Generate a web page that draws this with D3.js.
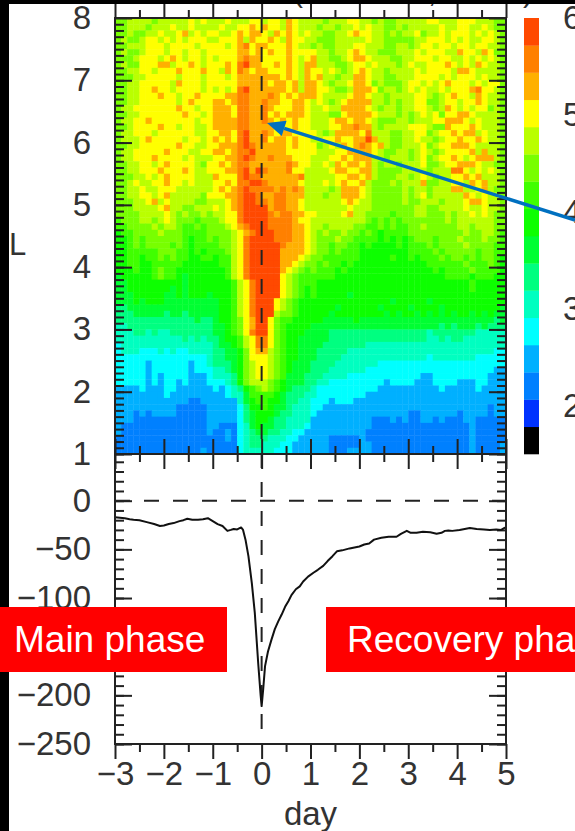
<!DOCTYPE html>
<html><head><meta charset="utf-8">
<script src="https://cdnjs.cloudflare.com/ajax/libs/d3/7.8.5/d3.min.js"></script>
<style>html,body{margin:0;padding:0;background:#fff;overflow:hidden}svg{display:block}</style>
</head><body><div id="c"></div>
<script>
const levelColors=["#000000","#0030ff","#0080ff","#00b0ff","#00ffff","#00ffc0","#00ff80","#00ff30","#10ff00","#40ff00","#78ff00","#baff00","#ffff00","#ffb000","#ff8000","#ff4800"];
// Level (hex digit) per cell, top row L 7.9-8.0; each group = one day, -3 to 5
const gridRows=[
"aabbbbab bbbbcbcb bbcbbbcc bccbdcbb bbabbbcc bbabaabb bbbccbbb cccbbbaa",
"aabbbabb bcbbcbbb bcbbccdc dccbdcbb babbabbc bcbbaaba bbbbbcbb ccbbcbaa",
"aabaabbc bbcdbcbc cbbcdcdd cbdcdcbc bbaabbcd ccbbabab bcabbcbc ccbcbcba",
"abaabccb cbcbcccb bcccdbdc cdcbdccb baaabbbb bcbbaaaa abbcccbc bcbbccba",
"aabbbccc bccccbcc ccbcdecd dcccdcbb abaabbbc cbbbaabb abccbccb ccbccbba",
"abaabccc bccbccbc ccccddcd cdccdccc cbbabbcd cbbaaabb bcbcccbb dccbdcaa",
"aaabcccb cdcbccbc bcccdedd ccccdcbc dbbaabcd dcbbbaab bcccbccb bcbcbcba",
"abaacccd dbccdcbc ccdcefdd ccdcdcbd dbbbaabc cbcbbbab cbbcccdc bcbdcbba",
"aabbccbc ccdcccdc cbdcedcd dcccdcbd ccbcbabc dcbbabbb bcbccccb ddcbbbba",
"aaabbccc ccbcccbc ccbcdddd dddcdcbd cdbbabbd dcbbaabb bccccbcb cccbcbba",
"aabbcccc cbdcccbc ccccdddd dcddcdbd dcbabbcd dcabaaab ccbcbcdc ccbcbcca",
"aabbccdc cbccccbc bcbcefdd ddddcdbd dccbaabd ddcabbab cbcbbcbc ccdeccba",
"aabbcccd ccbccdcc ccddeedd dedcdcdd dcbbbbcd dcbbabbb bccbabcd ccbdcbba",
"aabbcccc ccbcdccc ddcdeedd eddccddc bcbabcdd ddbbabab bccaabcc bccdcbba",
"abbccccc ccdccbcc dddceedd edcccddc bbcbbddd dcbabbab bccbabdc bcbccaba",
"aabbcccc cccdccbc dddceedd ecdcdddc bbbaacdd ddcbbbab abcbcacc ddcbbbba",
"abbccdcc cccccbcc ddddeedd edcdcdcc bbbcddcd dcbaaabb abbbccdd dcbcbbba",
"aabccccd ccbccbbc ddddeedd ddcccdcc bbbccdde ddbabbbb cccbaadc ccdcbbba",
"abbcccbc cccccbbc cddcefdd edcddccc cbabdddd cebbbaab bccabccd cddbcbba",
"abbbcdcc cccbccbc dcdcefdd ecddcdcc bbccdccd dfdbbaab bcbbabcc dccdcbba",
"aabbcccc ccdccbbc cdddefed ddddcdcc cabcbdcd edcdbaab bbcabccd ddcbbbba",
"abbccccc dcccbbcc ddcdeefd ddddcccc cbbbccdd ddcbaabb abcbabcc ccdbdbba",
"abbcccdc cccbcbbb ccddefed dedddccc bbbccdcd ddbbabbb abcabccd cbcdddba",
"aabbccbc dccccbac cdcdeedd ddddedcc bbcbdcdd cdbabbab bbcaabcc dddcbbaa",
"aabbcccd cccdcbbc ccddefdf edddeccb bbbcddcc ddbaaaab bbbabbbe ecbcbcba",
"aaabbcbc dccccbbb dcccefee ddddddeb bbbbccdd cdbaaabb abcbabbc cdcdbbba",
"aabcbbcc dccbcbbb ccdceeff edddddcb bbcbcdcc dbaaabab bbdaabbc cbdcdbba",
"aabbcbbc ccbbbbbb cdcdefee eedededb bbbabddd cbaaaaab abbabbbd dbbcdbaa",
"aabbccbc dbbbbbac ccddeffe ddeedddb bbabbddd cbaaaaab abcabbbb bdcbcbba",
"aaabbcdb cbbbbaab bbcdeffe edeeddcb bbbbbcdc bbaaaaab aabbbabb bcddcbba",
"aaabbbbc dbbaabbb cbcdefff fdeeddcb bbbbbbcb bbaaaaaa abbaabbb bcbbcbba",
"aaaabbbb cbabaaba bbccefff fedeeddc cbbbbcdb baaaa9aa abbaaaba bbcbcbaa",
"9aaabbab cbaaa9aa abccefff feeeedcc bbbbbbbb ba9a9a9a aaaaaaba bbbbbbaa",
"99aaaaba bba99a9a aabcdeff feeeeddc bbabbbba a99a9a99 aabaaaaa bbabbbaa",
"899aaaab aaa9999a aaabcdef ffeeeddc babaabaa 9a989999 aaaaaaaa abaabba9",
"889a9aaa aaa9899a 9aabceff ffeeeddc baaabaa9 99989898 9aaa9aaa baaabaa9",
"889a9aaa a9a98999 9aabceff fffedddc baa9aa99 89888898 999a9aaa abaaaa99",
"8899999a aa998989 99abceff fffddddc baa9a999 88888888 9999a9aa aaa9aa99",
"8899899a 9a998899 899bceff fffdddcb aa999999 88888988 98999a9a a9a9aa98",
"88998899 99988888 899bceff fffddcba a9a99898 88888888 88899999 9a999a98",
"8889889a 99888888 889bceff fffdcba9 a9998988 88888888 88889899 99a99998",
"7888889a 99878888 889bceff fffcba99 99998888 88888888 88888899 99899988",
"77888888 88878888 8889bcef fffcba99 98888888 88888888 88888888 88988888",
"77888888 87878888 8889bcef fffcba98 98888888 88888888 88888888 88988888",
"77788888 77878887 8889bcef fffcba98 98888878 88888888 88888888 88888888",
"77787888 77777777 7889bcef ffcba988 88888888 88888788 88878888 88888888",
"66777777 77777777 7889bcef ffcba988 88887888 88878888 78888788 88888887",
"66677777 67767777 7889bcef ffbaa988 88878888 88887878 87878787 88787877",
"66666666 66666766 7889acdf fca99888 88777778 77777777 77777777 77777767",
"55666666 66666666 7789acdf fca98888 77777777 77777777 77777676 77767666",
"55566565 56666666 7789acef fca98887 77766666 66666666 66656666 66655555",
"55555555 55565656 67889bce eca98877 77766666 66666666 66655656 65555555",
"45555555 55555555 67789bce eca98877 77666666 65555555 55555555 55555555",
"45554445 45445555 66778acd dba98877 76666655 55555555 55555555 55555544",
"44444444 44444445 66778acc cba98877 76666555 55555555 55545555 55544444",
"44444344 44443445 66678abc cba98777 66665555 55544444 44444444 44444444",
"44444344 44443444 55678abc cba98777 66655555 54444444 44444444 44444433",
"44444343 44443334 55568abc cba97776 66555544 44444444 44334444 44444333",
"44444343 44343334 44568abb ba987776 65544444 44443444 43334444 33344333",
"33334333 44333333 4345689a ba987666 54444444 44433333 33333433 33343333",
"33333333 43333333 33455799 99876665 54444444 43333333 33333333 33333333",
"33333333 33332233 33335789 98876655 44434443 33333333 33333333 33333333",
"33333333 33222223 33334688 98776555 44333333 33333333 33333333 33333233",
"33323233 33222223 33334678 88766555 43333333 33333333 22333333 23333233",
"33322222 22222223 33334678 87665555 33333333 33222323 22332322 23322222",
"32222222 22222223 32224578 77665554 33333333 33222222 22222222 22322222",
"32222222 22222223 22324567 76655443 33333333 32222222 22222222 22322222",
"22222222 22222222 22324566 65554433 33322222 32222222 22222222 22322222",
"22222222 22222222 22224566 55544333 33322222 33222222 22222222 22322223",
"22222222 22222232 22224555 55444333 33322233 33222222 22222222 22322223"
];
const dstDays=[-3,-2.9,-2.8,-2.7,-2.62,-2.5,-2.35,-2.2,-2.08,-2,-1.9,-1.8,-1.68,-1.6,-1.52,-1.42,-1.3,-1.2,-1.1,-1,-.9,-.8,-.7,-.63,-.57,-.5,-.42,-.38,-.33,-.27,-.2,-.14,-.07,-.02,0,.03,.07,.13,.2,.27,.34,.41,.48,.55,.61,.7,.78,.85,.95,1.06,1.15,1.26,1.35,1.45,1.54,1.65,1.8,2,2.1,2.2,2.3,2.45,2.6,2.76,2.85,2.97,3.05,3.17,3.3,3.45,3.58,3.68,3.75,3.82,3.9,4.05,4.26,4.4,4.55,4.67,4.8,4.9,4.97,5];
const dstVals=[-17,-17.5,-18,-19,-19.5,-20,-22,-24,-26,-25.5,-24,-23,-21,-20,-18.5,-19.5,-19.5,-19,-18,-21,-24,-26,-31,-30,-29,-29.5,-27.5,-30,-40,-57,-85,-115,-167,-200,-211,-195,-170,-155,-143,-132,-124,-117,-109,-103,-97,-91,-88,-83,-78,-74,-71,-67,-62,-57,-52,-51,-49,-47,-45,-44,-40,-38,-37,-37,-34,-31,-33,-33,-32,-32.5,-34,-33,-31,-30.5,-31,-30,-28,-29,-29.5,-30,-29.5,-30,-28,-27];
const xTickLabels=[-3,-2,-1,0,1,2,3,4,5];
const lTickLabels=[1,2,3,4,5,6,7,8];
const dstTickLabels=[0,-50,-100,-200,-250];
const barTickLabels=[2,3,4,5,6];
const phases=["Main phase","Recovery phase"];

const W=575,H=831;
const INK="#222";
const FONT="'Liberation Sans',Arial,sans-serif";
const svg=d3.select("#c").append("svg").attr("width",W).attr("height",H);
svg.append("rect").attr("width",W).attr("height",H).attr("fill","#fff");

const x=d3.scaleLinear().domain([-3,5]).range([115,506]);
const yL=d3.scaleLinear().domain([1,8]).range([454,18]);
const yD=d3.scaleLinear().domain([-250,48]).range([744,454]);
const barL=d3.scaleLinear().domain([1.5,6]).range([454,18]);
const barBand=d3.scaleBand().domain(d3.range(16)).range([454,18]).paddingInner(0);

const soft=svg.append("defs").append("filter").attr("id","soft").attr("x","-2%").attr("y","-2%").attr("width","104%").attr("height","104%");
soft.append("feGaussianBlur").attr("stdDeviation",0.6);

// heat map
const cells=[];
gridRows.forEach((row,r)=>{
  row.replace(/ /g,"").split("").forEach((ch,c)=>{
    cells.push({day:-3+c/8,L:8-r/10,level:parseInt(ch,16)});
  });
});
const heat=svg.append("g").attr("filter","url(#soft)");
heat.selectAll("rect").data(cells).join("rect")
  .attr("x",d=>x(d.day)).attr("y",d=>yL(d.L))
  .attr("width",x(-3+1/8)-x(-3)+.4).attr("height",yL(7.9)-yL(8)+.4)
  .attr("fill",d=>levelColors[d.level]);

// colour bar
const bar=svg.append("g").attr("filter","url(#soft)");
bar.selectAll("rect").data(levelColors).join("rect")
  .attr("x",524).attr("width",15)
  .attr("y",(d,i)=>barBand(i)).attr("height",barBand.bandwidth()+.3)
  .attr("fill",d=>d);

function styleTicks(g,w){
  g.select(".domain").remove();
  g.selectAll("line").attr("stroke",INK).attr("stroke-width",w);
  g.selectAll("text").remove();
}
function ticks(axis,values,size,tx,ty,w){
  const g=svg.append("g").attr("transform",`translate(${tx},${ty})`)
    .call(axis.tickValues(values).tickSize(-size).tickFormat(""));
  styleTicks(g,w);
}
const minorL=d3.range(10,80).map(v=>v/10);
const days=d3.range(-3,5.01,1), halfDays=d3.range(-2.5,5,1);
const minorD=d3.range(-250,41,10);
const majorD=d3.range(-250,1,50);
ticks(d3.axisLeft(yL),minorL,9,115,0,2);
ticks(d3.axisRight(yL),minorL,9,506,0,2);
ticks(d3.axisLeft(yL),lTickLabels,17,115,0,2);
ticks(d3.axisRight(yL),lTickLabels,17,506,0,2);
ticks(d3.axisLeft(yD),minorD,9,115,0,2);
ticks(d3.axisRight(yD),minorD,9,506,0,2);
ticks(d3.axisLeft(yD),majorD,17,115,0,2);
ticks(d3.axisRight(yD),majorD,17,506,0,2);
function xt(values,size,p,top){
  ticks(top?d3.axisBottom(x):d3.axisTop(x),values,size,0,p,2);
}
xt(days,15,18,true); xt(halfDays,8,18,true);
xt(days,15,454,false); xt(halfDays,8,454,false);
xt(days,15,454,true); xt(halfDays,8,454,true);
xt(days,15,744,false); xt(halfDays,8,744,false);

// dashed reference lines
svg.append("line").attr("x1",x(0)).attr("x2",x(0)).attr("y1",yL(8)).attr("y2",yD(-250))
  .attr("stroke",INK).attr("stroke-width",2).attr("stroke-dasharray","15 14");
svg.append("line").attr("x1",x(-3)).attr("x2",x(5)).attr("y1",yD(0)).attr("y2",yD(0))
  .attr("stroke",INK).attr("stroke-width",2).attr("stroke-dasharray","15 14");

// Dst line
svg.append("path").datum(dstDays.map((d,i)=>[d,dstVals[i]]))
  .attr("d",d3.line().x(d=>x(d[0])).y(d=>yD(d[1])))
  .attr("fill","none").attr("stroke","#111").attr("stroke-width",2).attr("stroke-linejoin","round");

// frames
[[yL(8),454],[454,744]].forEach(([a,b])=>{
  svg.append("rect").attr("x",115).attr("y",a).attr("width",391).attr("height",b-a)
    .attr("fill","none").attr("stroke",INK).attr("stroke-width",2);
});

// tick labels
function labels(axis,values,tx,ty,pad,fmt){
  const g=svg.append("g").attr("transform",`translate(${tx},${ty})`)
    .call(axis.tickValues(values).tickSize(0).tickPadding(pad).tickFormat(fmt||(d=>d3.format("d")(d))));
  g.select(".domain").remove();
  g.selectAll("line").remove();
  g.selectAll("text").attr("font-family",FONT).attr("font-size",33).attr("fill","#333");
  return g;
}
labels(d3.axisLeft(yL),lTickLabels,115,0,24);
labels(d3.axisLeft(yD),dstTickLabels,115,0,24);
labels(d3.axisBottom(x),xTickLabels,0,744,18);
labels(d3.axisRight(barL),barTickLabels,563,0,0);

svg.append("text").text("L").attr("x",9).attr("y",255).attr("font-family",FONT).attr("font-size",31).attr("fill","#333");
svg.append("text").text("day").attr("x",x(1)).attr("y",825).attr("text-anchor","middle")
  .attr("font-family",FONT).attr("font-size",33).attr("fill","#333");

// remnants of the cropped title
[["(",293],[",",428],[")",523]].forEach(([t,px])=>{
  svg.append("text").text(t).attr("x",px).attr("y",2).attr("font-family",FONT).attr("font-size",30).attr("fill","#333");
});

// cropped black edges
svg.append("rect").attr("x",0).attr("y",0).attr("width",W).attr("height",4).attr("fill","#000");
svg.append("rect").attr("x",0).attr("y",0).attr("width",9).attr("height",H).attr("fill","#000");

// arrow
const tip=[267,123], tail=[575,220];
const ang=Math.atan2(tail[1]-tip[1],tail[0]-tip[0]);
const headLen=18, headW=8;
const base=[tip[0]+headLen*Math.cos(ang),tip[1]+headLen*Math.sin(ang)];
svg.append("line").attr("x1",base[0]).attr("y1",base[1]).attr("x2",tail[0]).attr("y2",tail[1])
  .attr("stroke","#0070c0").attr("stroke-width",3.5);
svg.append("polygon").attr("fill","#0070c0").attr("points",[
  tip,
  [base[0]-headW*Math.sin(ang),base[1]+headW*Math.cos(ang)],
  [base[0]+headW*Math.sin(ang),base[1]-headW*Math.cos(ang)]
].map(p=>p.join(",")).join(" "));

// phase labels
[[0,227,14],[326,249,347]].forEach(([bx,bw,tx],i)=>{
  svg.append("rect").attr("x",bx).attr("y",607).attr("width",bw).attr("height",65).attr("fill","#ff0000");
  svg.append("text").text(phases[i]).attr("x",tx).attr("y",652).attr("font-family",FONT).attr("font-size",37).attr("fill","#fff");
});
</script></body></html>
